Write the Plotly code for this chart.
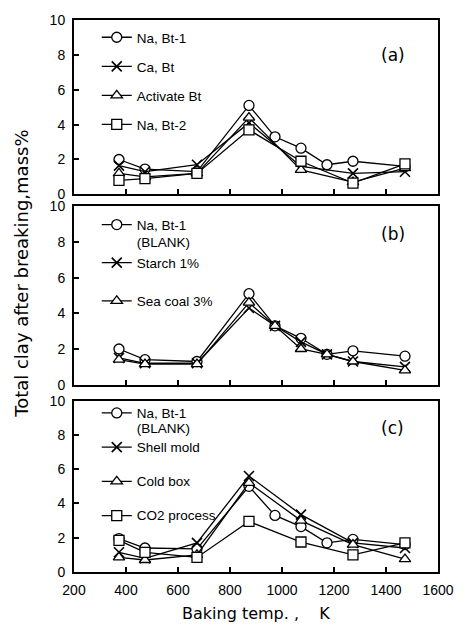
import plotly.graph_objects as go

# ---- data ----
x_full = [373, 473, 673, 873, 973, 1073, 1173, 1273, 1473]
x_main = [373, 473, 673, 873, 1073, 1273, 1473]

# panel (a)
a_na_bt1 = [2.0, 1.45, 1.3, 5.1, 3.3, 2.65, 1.7, 1.9, 1.6]
a_ca_bt = [1.65, 1.3, 1.7, 4.1, 1.6, 1.2, 1.3]
a_act_bt = [1.2, 1.0, 1.2, 4.4, 1.4, 0.7, 1.5]
a_na_bt2 = [0.8, 0.9, 1.2, 3.7, 1.9, 0.65, 1.75]

# panel (b)
b_blank = [2.0, 1.4, 1.3, 5.1, 3.3, 2.6, 1.7, 1.9, 1.6]
b_starch = [1.5, 1.2, 1.2, 4.3, 3.3, 2.4, 1.7, 1.3, 1.0]
b_seacoal = [1.4, 1.15, 1.15, 4.6, 3.3, 2.0, 1.7, 1.3, 0.8]

# panel (c)
c_blank = [1.95, 1.4, 1.35, 5.0, 3.3, 2.65, 1.7, 1.9, 1.6]
c_shell = [1.15, 0.8, 1.7, 5.6, 3.35, 1.7, 1.4]
c_coldbox = [0.85, 0.7, 1.0, 5.2, 3.0, 1.6, 0.75]
c_co2 = [1.85, 1.15, 0.85, 2.95, 1.75, 1.0, 1.7]

x_ticks = [200, 400, 600, 800, 1000, 1200, 1400, 1600]
y_ticks = [0, 2, 4, 6, 8, 10]

FONT = "Liberation Sans, Arial, sans-serif"
WFONT = "DejaVu Sans, sans-serif"

def marker(sym):
    if sym == "x":
        return dict(symbol="x-thin", size=10, color="black", line=dict(color="black", width=1.6))
    return dict(symbol=sym, size=10, color="white", line=dict(color="black", width=1.3))

fig = go.Figure()

def add(x, y, name, sym, xa, ya, leg):
    fig.add_trace(go.Scatter(
        x=x, y=y, name=name, mode="lines+markers", xaxis=xa, yaxis=ya,
        line=dict(color="black", width=1.3), marker=marker(sym),
        legend=leg, legendgroup=leg + name))

def big(s):
    return '<span style="font-size:13.5px">' + s + '</span>'

add(x_full, a_na_bt1, "Na, Bt-1", "circle", "x", "y", "legend")
add(x_main, a_ca_bt, "Ca, Bt", "x", "x", "y", "legend")
add(x_main, a_act_bt, "Activate Bt", "triangle-up", "x", "y", "legend")
add(x_main, a_na_bt2, "Na, Bt-2", "square", "x", "y", "legend")

add(x_full, b_blank, "Na, Bt-1<br>(BLANK)", "circle", "x2", "y2", "legend2")
add(x_full, b_starch, "Starch 1%<br> ", "x", "x2", "y2", "legend2")
add(x_full, b_seacoal, "Sea coal 3%", "triangle-up", "x2", "y2", "legend2")

add(x_full, c_blank, big("Na, Bt-1") + "<br>" + big("(BLANK)"), "circle", "x3", "y3", "legend3")
add(x_main, c_shell, big("Shell mold") + "<br> ", "x", "x3", "y3", "legend3")
add(x_main, c_coldbox, big("Cold box") + "<br> ", "triangle-up", "x3", "y3", "legend3")
add(x_main, c_co2, big("CO2 process"), "square", "x3", "y3", "legend3")

H, T, B = 630, 18, 58
ph = H - T - B
PW = 466 - 74 - 23

def dom(top_px, bot_px):
    return [(H - B - bot_px) / ph, (H - B - top_px) / ph]

def ypos(px):
    return (H - B - px) / ph

def xpos(px):
    return (px - 74) / PW

doms = [dom(18, 193), dom(205, 384), dom(400, 572)]

axis_common = dict(showline=True, linecolor="black", linewidth=2, mirror=True,
                   ticks="inside", ticklen=5, tickcolor="black", tickwidth=1.5,
                   showgrid=False, zeroline=False, ticklabelstandoff=4,
                   tickfont=dict(family=FONT, size=14, color="black"))

layout = dict(
    width=466, height=630, margin=dict(l=74, r=23, t=T, b=B),
    paper_bgcolor="white", plot_bgcolor="white",
    font=dict(family=FONT, color="black"),
)
names = ["", "2", "3"]
for i, n in enumerate(names):
    layout["xaxis" + n] = dict(axis_common, range=[200, 1600], tickvals=x_ticks,
                               showticklabels=(i == 2), anchor="y" + n, domain=[0, 1])
    layout["yaxis" + n] = dict(axis_common, range=[0, 10], tickvals=y_ticks,
                               anchor="x" + n, domain=doms[i])

leg_common = dict(bgcolor="rgba(0,0,0,0)", font=dict(family=FONT, size=13.5, color="black"),
                  xanchor="left", yanchor="top", valign="top", itemwidth=30)
layout["legend"] = dict(leg_common, x=0.0625, y=ypos(20), tracegroupgap=8.5)
layout["legend2"] = dict(leg_common, x=0.0625, y=ypos(208), tracegroupgap=0)
layout["legend3"] = dict(leg_common, x=0.0625, y=ypos(398), tracegroupgap=0,
                         font=dict(family=FONT, size=12, color="black"))

fig.update_layout(**layout)

for txt, yy in [("(a)", 53), ("(b)", 233), ("(c)", 427)]:
    fig.add_annotation(text=txt, xref="paper", yref="paper", x=xpos(397), y=ypos(yy),
                       xanchor="center", yanchor="middle",
                       showarrow=False, font=dict(family=WFONT, size=17, color="black"))

fig.add_annotation(text="Total clay after breaking,mass%", xref="paper", yref="paper",
                   x=xpos(20), y=ypos(273), textangle=-90, showarrow=False,
                   xanchor="center", yanchor="middle",
                   font=dict(family=WFONT, size=18, color="black"))
fig.add_annotation(text="Baking temp. ,    K", xref="paper", yref="paper",
                   x=xpos(259), y=ypos(614), showarrow=False,
                   xanchor="center", yanchor="middle",
                   font=dict(family=WFONT, size=16, color="black"))

fig.write_html("out.html")
